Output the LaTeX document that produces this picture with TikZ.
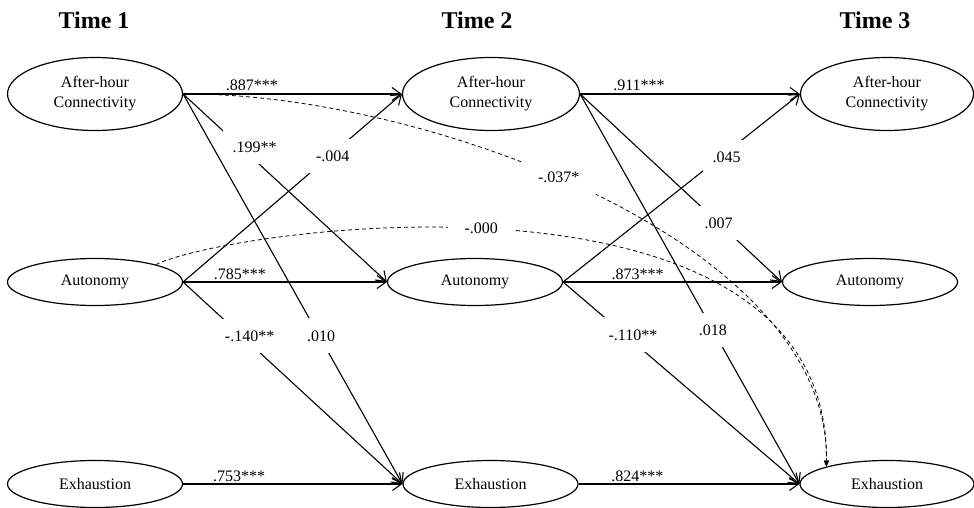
\documentclass[tikz,border=0pt]{standalone}
\usepackage{fontspec}
\setmainfont{Liberation Serif}
\usetikzlibrary{shapes.geometric,arrows.meta}
\begin{document}
\begin{tikzpicture}[x=1pt,y=-1pt,
  lab/.style={font=\fontsize{16}{20}\selectfont},
  var/.style={ellipse,draw,line width=1.2pt,inner sep=0pt,align=center,lab},
  bigvar/.style={var,minimum width=175pt,minimum height=73pt},
  smallvar/.style={var,minimum width=175pt,minimum height=47pt},
  timelab/.style={font=\fontsize{24}{28}\selectfont\bfseries},
  conn/.style={line width=1.1pt,-{Straight Barb[length=9pt,width=13pt,line width=1.1pt]}},
  dconn/.style={line width=0.8pt,dash pattern=on 4pt off 3pt,-{Triangle[length=6pt,width=5pt]}},
  hl/.style={lab,anchor=base,yshift=3pt,inner sep=0pt},
  dl/.style={lab,fill=white,inner xsep=10pt,inner ysep=12pt},
  cl/.style={lab,fill=white,inner xsep=17pt,inner ysep=12pt}
]
\useasboundingbox (0,0) rectangle (974,508);

% titles
\node[timelab] (t1) at (94,20) {Time 1};
\node[timelab] (t2) at (477,20) {Time 2};
\node[timelab] (t3) at (875,20) {Time 3};

% variables
\node[bigvar] (a1) at (95,94) {After-hour\\Connectivity};
\node[smallvar] (au1) at (95,282) {Autonomy};
\node[smallvar] (e1) at (95,484) {Exhaustion};
\node[bigvar,minimum width=177pt] (a2) at (491,94) {After-hour\\Connectivity};
\node[smallvar] (au2) at (475,282) {Autonomy};
\node[smallvar] (e2) at (490.5,484) {Exhaustion};
\node[bigvar,minimum width=173pt] (a3) at (887,94) {After-hour\\Connectivity};
\node[smallvar] (au3) at (870,282) {Autonomy};
\node[smallvar,minimum width=174pt] (e3) at (887,484) {Exhaustion};

% Time 1 -> Time 2
\draw[conn] (a1.east) -- (a2.west) node[hl,pos=0.314] {.887***};
\draw[conn] (au1.east) -- (au2.west) node[hl,pos=0.279] {.785***};
\draw[conn] (e1.east) -- (e2.west) node[hl,pos=0.255] {.753***};
\draw[conn] (a1.east) -- (au2.west) node[dl,pos=0.282,xshift=14pt] {.199**};
\draw[conn] (a1.east) -- (e2.west) node[dl,pos=0.62,xshift=2pt] {.010};
\draw[conn] (au1.east) -- (a2.west) node[dl,pos=0.67,xshift=3pt] {-.004};
\draw[conn] (au1.east) -- (e2.west) node[dl,pos=0.267,xshift=8pt] {-.140**};

% Time 2 -> Time 3
\draw[conn] (a2.east) -- (a3.west) node[hl,pos=0.268] {.911***};
\draw[conn] (au2.east) -- (au3.west) node[hl,pos=0.341] {.873***};
\draw[conn] (e2.east) -- (e3.west) node[hl,pos=0.266] {.824***};
\draw[conn] (a2.east) -- (au3.west) node[dl,pos=0.686] {.007};
\draw[conn] (a2.east) -- (e3.west) node[dl,pos=0.605] {.018};
\draw[conn] (au2.east) -- (a3.west) node[dl,pos=0.665,xshift=6pt] {.045};
\draw[conn] (au2.east) -- (e3.west) node[dl,pos=0.262,xshift=8pt] {-.110**};

% Time 1 -> Time 3 (dashed)
\draw[dconn] (a1.east) .. controls (420,92) and (830,240) .. (e3.164) node[cl,pos=0.455] {-.037*};
\draw[dconn] (au1.16) .. controls (240,225) and (830,150) .. (e3.164) node[cl,pos=0.455] {-.000};
\end{tikzpicture}
\end{document}
